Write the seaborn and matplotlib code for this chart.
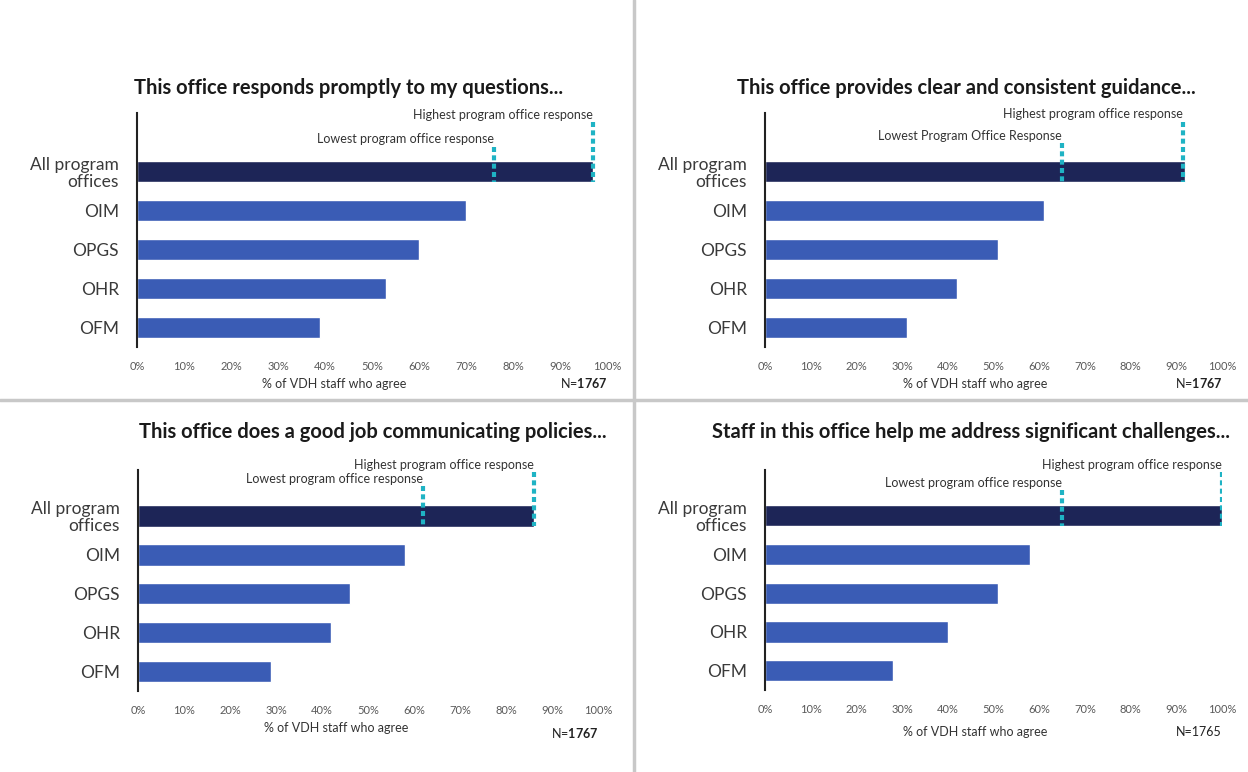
import pandas as pd
import matplotlib
matplotlib.use('Agg')
import matplotlib.pyplot as plt
import seaborn as sns
from matplotlib.lines import Line2D

# --- Data ---
categories = ['All program\noffices', 'OIM', 'OPGS', 'OHR', 'OFM']
titles = ['This office responds promptly to my questions...',
          'This office provides clear and consistent guidance...',
          'This office does a good job communicating policies...',
          'Staff in this office help me address significant challenges...']
values_prompt = [97, 70, 60, 53, 39]
values_guidance = [92, 61, 51, 42, 31]
values_policies = [86, 58, 46, 42, 29]
values_challenges = [100, 58, 51, 40, 28]
lowest = [76, 65, 62, 65]
highest = [97, 91.5, 86, 100]
lowest_labels = ['Lowest program office response', 'Lowest Program Office Response',
                 'Lowest program office response', 'Lowest program office response']
n_counts = ['1767', '1767', '1767', '1765']
n_bold = [True, True, True, False]
xticks = [0, 10, 20, 30, 40, 50, 60, 70, 80, 90, 100]

sns.set_theme(style="white")
plt.rcParams['font.family'] = ['Lato', 'DejaVu Sans']
plt.rcParams['mathtext.fontset'] = 'custom'
plt.rcParams['mathtext.rm'] = 'Lato'
plt.rcParams['mathtext.bf'] = 'Lato:bold'

W, H = 1248, 772
fig = plt.figure(figsize=(W / 100, H / 100), dpi=100)
fig.patch.set_facecolor('white')

# pixel boxes: left (0%), right (100%), top, bottom of the axes
boxes = [(137, 607, 113, 347), (765, 1222, 113, 347),
         (138, 598, 470, 691), (765, 1222, 470, 690)]
ytops = [-1.5, -1.5, -1.18, -1.18]
high_tops = [-1.26, -1.28, -1.13, -1.13]
low_tops = [-0.64, -0.72, -0.77, -0.67]
title_x = [0.45, 0.44, 0.51, 0.45]
title_pad = [14, 14, 23, 23]
xlabel_x = [0.42, 0.46, 0.43, 0.46]
xlabel_y = [-0.134, -0.134, -0.14, -0.165]
n_y = [-0.125, -0.125, -0.16, -0.165]

colors = ['#1d2557', '#3a5cb5', '#3a5cb5', '#3a5cb5', '#3a5cb5']
teal = '#1fb3c4'
series = [values_prompt, values_guidance, values_policies, values_challenges]

for i, vals in enumerate(series):
    l, r, t, b = boxes[i]
    ax = fig.add_axes([l / W, 1 - b / H, (r - l) / W, (b - t) / H])
    df = pd.DataFrame({'office': categories, 'pct': vals})
    sns.barplot(data=df, y='office', x='pct', hue='office', palette=colors,
                legend=False, orient='h', width=0.55, ax=ax, saturation=1)
    ax.set_xlim(0, 100)
    ax.set_ylim(4.5, ytops[i])
    ax.set_xticks(xticks)
    ax.set_xticklabels([f'{x}%' for x in xticks], fontsize=8, color='#595959')
    ax.tick_params(axis='y', labelsize=12.5, labelcolor='#3a3a3a', length=0, pad=13)
    ax.tick_params(axis='x', length=0, pad=10)
    for lab in ax.get_yticklabels():
        lab.set_horizontalalignment('right')
        lab.set_multialignment('right')
        lab.set_linespacing(1.05)
    ax.set_ylabel('')
    ax.set_xlabel('')
    for s in ['top', 'right', 'bottom']:
        ax.spines[s].set_visible(False)
    ax.spines['left'].set_color('#222222')
    ax.spines['left'].set_linewidth(1.5)
    ax.set_facecolor('none')

    # reference lines
    ax.plot([highest[i], highest[i]], [high_tops[i], 0.27], color=teal,
            lw=3, ls=(0, (1.2, 0.8)), solid_capstyle='butt', zorder=5)
    ax.plot([lowest[i], lowest[i]], [low_tops[i], 0.27], color=teal,
            lw=3, ls=(0, (1.2, 0.8)), solid_capstyle='butt', zorder=5)
    ax.text(highest[i], high_tops[i] - 0.03, 'Highest program office response',
            ha='right', va='bottom', fontsize=9, color='#333333')
    ax.text(lowest[i], low_tops[i] - 0.03, lowest_labels[i],
            ha='right', va='bottom', fontsize=9, color='#333333')

    ax.set_title(titles[i], fontsize=14.5, fontweight='bold', color='#1a1a1a',
                 x=title_x[i], pad=title_pad[i])
    ax.text(xlabel_x[i], xlabel_y[i], '% of VDH staff who agree', transform=ax.transAxes,
            ha='center', va='top', fontsize=9, color='#333333')
    n_txt = f'N=$\\mathbf{{{n_counts[i]}}}$' if n_bold[i] else f'N={n_counts[i]}'
    ax.text(1.0, n_y[i], n_txt, transform=ax.transAxes,
            ha='right', va='top', fontsize=9, color='#222222')

# panel dividers
fig.add_artist(Line2D([634 / W, 634 / W], [0, 1], color='#c8c8c8', lw=2.5))
fig.add_artist(Line2D([0, 1], [1 - 400 / H, 1 - 400 / H], color='#c8c8c8', lw=2.5))

fig.savefig('out.png', dpi=100, facecolor='white')
plt.close(fig)
